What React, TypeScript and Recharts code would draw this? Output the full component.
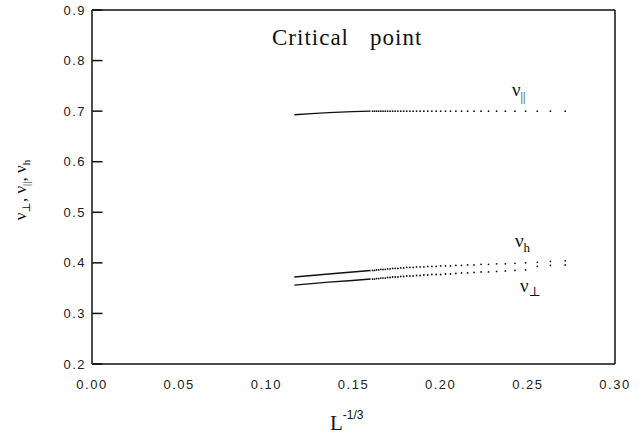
import { ComposedChart, Line, Scatter, XAxis, YAxis, ReferenceLine } from 'recharts';

// system sizes L (x axis is L^-1/3)
const solidSizes = [640, 500, 400, 300, 245];
const dotSizes = [240, 235, 230, 225, 220, 215, 210, 205, 200, 195, 190, 185, 180, 175, 170, 165, 160, 155, 150, 145,
    140, 135, 130, 125, 120, 115, 110, 105, 100, 95, 90, 85, 80, 75, 70, 65, 60, 55, 50];

// exponents
const nuParSolid = [0.693, 0.695, 0.697, 0.699, 0.700];
const nuHSolid = [0.372, 0.375, 0.378, 0.382, 0.385];
const nuPerpSolid = [0.356, 0.359, 0.362, 0.365, 0.368];

const nuParDots = [0.700, 0.700, 0.700, 0.700, 0.700, 0.700, 0.700, 0.700, 0.700, 0.700, 0.700, 0.700, 0.700, 0.700, 0.700, 0.700, 0.700, 0.700, 0.700, 0.700,
    0.700, 0.700, 0.700, 0.700, 0.700, 0.700, 0.700, 0.700, 0.700, 0.700, 0.700, 0.700, 0.700, 0.700, 0.700, 0.700, 0.700, 0.700, 0.700];
const nuHDots = [0.385, 0.385, 0.386, 0.386, 0.387, 0.387, 0.387, 0.388, 0.388, 0.389, 0.389, 0.389, 0.390, 0.390, 0.391, 0.391, 0.391, 0.392, 0.392, 0.392,
    0.393, 0.393, 0.393, 0.394, 0.394, 0.394, 0.395, 0.395, 0.396, 0.396, 0.397, 0.397, 0.398, 0.398, 0.399, 0.400, 0.401, 0.403, 0.404];
const nuPerpDots = [0.368, 0.368, 0.369, 0.369, 0.370, 0.370, 0.370, 0.371, 0.371, 0.372, 0.372, 0.372, 0.373, 0.373, 0.374, 0.374, 0.374, 0.375, 0.375, 0.376,
    0.376, 0.377, 0.377, 0.377, 0.378, 0.378, 0.379, 0.380, 0.380, 0.381, 0.382, 0.382, 0.383, 0.384, 0.385, 0.386, 0.393, 0.395, 0.396];

const xTicks = [0, 0.05, 0.1, 0.15, 0.2, 0.25, 0.3];
const yTicks = [0.2, 0.3, 0.4, 0.5, 0.6, 0.7, 0.8, 0.9];

const toPoints = (sizes: number[], values: number[]) =>
    sizes.map((L, i) => ({ x: Math.pow(L, -1 / 3), y: values[i] }));

const Dot = (props: any) => <circle cx={props.cx} cy={props.cy} r={0.9} fill="#111" />;

const serif = '"Liberation Serif", "DejaVu Serif", serif';
const sans = '"Liberation Sans", Arial, sans-serif';

const App = () => {
    const tickStyle = { fontFamily: sans, fontSize: 13, fill: '#222', letterSpacing: 1.5 };
    return (
        <div style={{ position: 'absolute', left: 0, top: 0, width: 644, height: 437, background: '#fff' }}>
            <ComposedChart width={644} height={437} margin={{ top: 10, right: 29, left: 32, bottom: 43 }}>
                <XAxis dataKey="x" type="number" domain={[0, 0.3]} ticks={xTicks} tickFormatter={(v) => v.toFixed(2)}
                    tick={tickStyle} tickLine={false} tickSize={0} tickMargin={16} height={30}
                    axisLine={{ stroke: '#111', strokeWidth: 1.5 }} allowDataOverflow />
                <YAxis type="number" domain={[0.2, 0.9]} ticks={yTicks} tickFormatter={(v) => v.toFixed(1)}
                    tick={tickStyle} tickLine={false} tickSize={0} tickMargin={6} width={60}
                    axisLine={{ stroke: '#111', strokeWidth: 1.5 }} allowDataOverflow />
                <ReferenceLine y={0.9} stroke="#111" strokeWidth={1.5} />
                <ReferenceLine x={0.3} stroke="#111" strokeWidth={1.5} />
                {yTicks.map(v => (
                    <ReferenceLine key={v} segment={[{ x: 0, y: v }, { x: 0.006, y: v }]} stroke="#111" strokeWidth={1.5} />
                ))}
                <Line data={toPoints(solidSizes, nuParSolid)} dataKey="y" stroke="#111" strokeWidth={1.4} dot={false} isAnimationActive={false} />
                <Line data={toPoints(solidSizes, nuHSolid)} dataKey="y" stroke="#111" strokeWidth={1.4} dot={false} isAnimationActive={false} />
                <Line data={toPoints(solidSizes, nuPerpSolid)} dataKey="y" stroke="#111" strokeWidth={1.4} dot={false} isAnimationActive={false} />
                <Scatter data={toPoints(dotSizes, nuParDots)} dataKey="y" shape={Dot} isAnimationActive={false} />
                <Scatter data={toPoints(dotSizes, nuHDots)} dataKey="y" shape={Dot} isAnimationActive={false} />
                <Scatter data={toPoints(dotSizes, nuPerpDots)} dataKey="y" shape={Dot} isAnimationActive={false} />
            </ComposedChart>
            <svg width={644} height={437} style={{ position: 'absolute', left: 0, top: 0, pointerEvents: 'none' }}>
                <text x={272} y={45} fontFamily={serif} fontSize={23} fill="#111" letterSpacing={1}>Critical</text>
                <text x={370} y={45} fontFamily={serif} fontSize={23} fill="#111" letterSpacing={1}>point</text>
                <text x={512} y={96} fontFamily={serif} fontSize={19} fill="#111">ν<tspan fontSize={12} dy={5}>||</tspan></text>
                <text x={515} y={247} fontFamily={serif} fontSize={19} fill="#111">ν<tspan fontSize={13} dy={5}>h</tspan></text>
                <text x={520} y={292} fontFamily={serif} fontSize={19} fill="#111">ν<tspan fontSize={13} dy={4}>⊥</tspan></text>
                <text x={330} y={430} fontFamily={serif} fontSize={21} fill="#111">L<tspan fontSize={12} dy={-11} fontFamily={sans}>-1/3</tspan></text>
                <text transform="translate(26,190) rotate(-90)" textAnchor="middle" fontFamily={serif} fontSize={17} fill="#111">
                    ν<tspan fontSize={11} dy={4}>⊥</tspan><tspan dy={-4}>, ν</tspan><tspan fontSize={11} dy={4}>||</tspan><tspan dy={-4}>, ν</tspan><tspan fontSize={11} dy={4}>h</tspan>
                </text>
            </svg>
        </div>
    );
};

export default App;
